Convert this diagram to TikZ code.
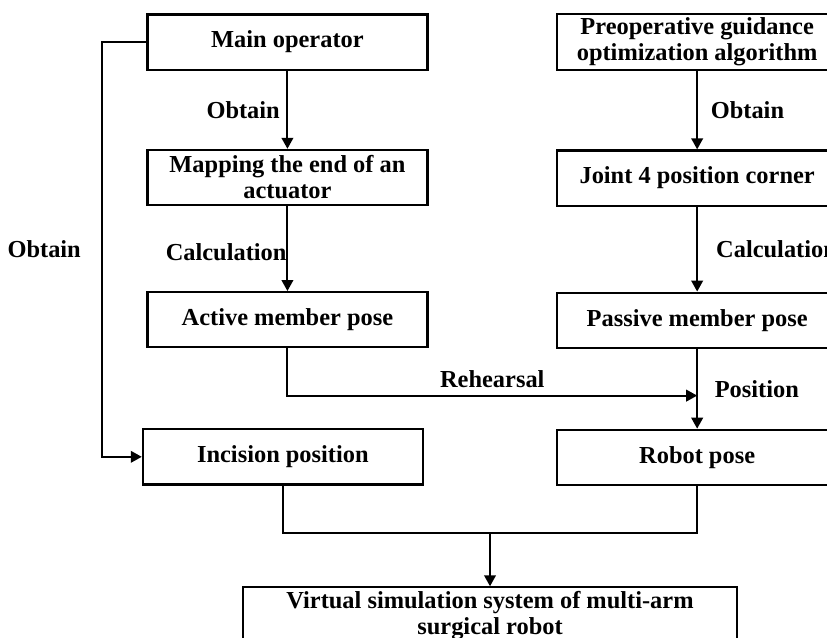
\documentclass[tikz,border=0pt]{standalone}
\usepackage{fontspec}
\setmainfont{Liberation Serif}
\usepackage{tikz}
\usetikzlibrary{positioning,arrows.meta,calc}

\begin{document}
\begin{tikzpicture}[font=\bfseries\fontsize{12.2}{13}\selectfont,
    box/.style={draw,line width=1.1pt,minimum width=4.92cm,minimum height=0.97cm,inner sep=2pt,align=center},
    arr/.style={-{Triangle[length=5.5pt,width=5.8pt]},line width=1pt}
  ]
  \useasboundingbox (-5.05,0.74) rectangle (9.48,-10.46);

  \node[box] (main) at (0,0) {Main operator};
  \node[box,below=1.37cm of main] (map) {Mapping the end of an\\actuator};
  \node[box,below=1.49cm of map] (active) {Active member pose};
  \node[box,below=1.40cm of active,xshift=-0.08cm] (incision) {Incision position};

  \node[box,right=2.24cm of main] (preop) {Preoperative guidance\\optimization algorithm};
  \node[box,below=1.37cm of preop] (joint) {Joint 4 position corner};
  \node[box,below=1.49cm of joint] (passive) {Passive member pose};
  \node[box,below=1.40cm of passive] (robot) {Robot pose};

  \coordinate (rh) at ($(passive.south)!0.585!(robot.north)$);
  \coordinate (feet) at ($(incision.south)+(0,-0.84)$);
  \coordinate (join) at ($(feet)!0.5!(feet -| robot.south)$);

  \node[box,minimum width=8.68cm,minimum height=1.0cm,inner sep=1pt,below=0.93cm of join] (virtual) {Virtual simulation system of multi-arm\\surgical robot};

  \draw[arr] (main.south) -- node[midway,left] {Obtain} (map.north);
  \draw[arr] (map.south) -- node[midway,left,inner sep=0pt,yshift=-1.75pt] {Calculation} (active.north);
  \draw[arr] (preop.south) -- node[midway,right=3pt] {Obtain} (joint.north);
  \draw[arr] (joint.south) -- node[midway,right=5.7pt] {Calculation} (passive.north);
  \draw[arr] (passive.south) -- node[midway,right=5pt] {Position} (robot.north);
  \draw[arr] (active.south) |- node[pos=0.75,above] {Rehearsal} (rh);
  \draw[arr] (main.west) -- ++(-0.77,0) |- node[pos=0.25,left=7pt] {Obtain} (incision.west);
  \draw[line width=1pt] (incision.south) -- (feet) -| (robot.south);
  \draw[arr] (join) -- (virtual.north);
\end{tikzpicture}
\end{document}
